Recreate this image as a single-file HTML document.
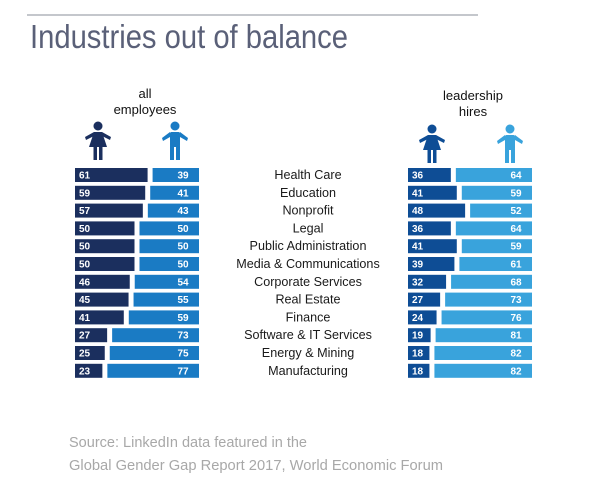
<!DOCTYPE html>
<html><head><meta charset="utf-8"><style>
html,body{margin:0;padding:0;background:#fff;}
svg{display:block;font-family:"Liberation Sans",sans-serif;}
</style></head><body>
<svg id="chart" width="600" height="495" viewBox="0 0 600 495">
<line x1="27" y1="15" x2="478" y2="15" stroke="#8a8f99" stroke-width="1"/>
<text x="30" y="48" font-size="33" fill="#5a6078" textLength="318" lengthAdjust="spacingAndGlyphs">Industries out of balance</text>
<text x="145" y="98" font-size="13" fill="#111" text-anchor="middle">all</text>
<text x="145" y="114" font-size="13" fill="#111" text-anchor="middle">employees</text>
<text x="473" y="100" font-size="13" fill="#111" text-anchor="middle">leadership</text>
<text x="473" y="116" font-size="13" fill="#111" text-anchor="middle">hires</text>
<g id="icons"></g>
<g id="bars"></g>
<text x="69" y="447" font-size="14.5" fill="#a8a8a8" textLength="238" lengthAdjust="spacingAndGlyphs">Source: LinkedIn data featured in the</text>
<text x="69" y="470" font-size="14.5" fill="#a8a8a8" textLength="374" lengthAdjust="spacingAndGlyphs">Global Gender Gap Report 2017, World Economic Forum</text>
</svg>
<script>
const industries=["Health Care","Education","Nonprofit","Legal","Public Administration","Media & Communications","Corporate Services","Real Estate","Finance","Software & IT Services","Energy & Mining","Manufacturing"];
const allFemale=[61,59,57,50,50,50,46,45,41,27,25,23];
const allMale=[39,41,43,50,50,50,54,55,59,73,75,77];
const hiresFemale=[36,41,48,36,41,39,32,27,24,19,18,18];
const hiresMale=[64,59,52,64,59,61,68,73,76,81,82,82];

const NS="http://www.w3.org/2000/svg";
const bars=document.getElementById('bars');
const icons=document.getElementById('icons');
const scale=1.19, gap=5, rowTop=168, rowStep=17.8, barH=14;
function yRow(i){return rowTop+i*rowStep;}
function el(tag,attrs,parent){const e=document.createElementNS(NS,tag);for(const k in attrs)e.setAttribute(k,attrs[k]);parent.appendChild(e);return e;}

function drawPanel(x0,fem,mal,fc,mc,key){
  const total=100*scale+gap;
  fem.forEach((v,i)=>{
    const y=yRow(i), w=v*scale;
    const r=el('rect',{x:x0,y:y,width:w,height:barH,fill:fc},bars);
    
    
    const t=el('text',{x:x0+4,y:y+10.5,'font-size':10,'font-weight':'bold',fill:'#fff'},bars);
    t.textContent=v;
    
    
  });
  mal.forEach((v,i)=>{
    const y=yRow(i), w=v*scale, xe=x0+total;
    const r=el('rect',{x:xe-w,y:y,width:w,height:barH,fill:mc},bars);
    
    
    const t=el('text',{x:xe-16,y:y+10.5,'font-size':10,'font-weight':'bold',fill:'#fff','text-anchor':'middle'},bars);
    t.textContent=v;
    
    
  });
}
drawPanel(75,allFemale,allMale,'#1b2f5e','#1a7bc4','all');
drawPanel(408,hiresFemale,hiresMale,'#0e4d95','#39a3dc','hires');

industries.forEach((n,i)=>{
  const t=el('text',{x:308,y:yRow(i)+11,'font-size':12.6,fill:'#1a1a1a','text-anchor':'middle'},bars);
  t.textContent=n;
  
  
});

function female(cx,top,c,name){
  const g=el('g',{fill:c},icons);
  
  
  el('circle',{cx:cx,cy:top+5,r:4.5},g);
  el('path',{d:`M${cx-4} ${top+11} L${cx+4} ${top+11} L${cx+9} ${top+26} L${cx-9} ${top+26} Z`},g);
  el('path',{d:`M${cx-4} ${top+11} L${cx-13} ${top+16} L${cx-12} ${top+19} L${cx-4} ${top+15} Z M${cx+4} ${top+11} L${cx+13} ${top+16} L${cx+12} ${top+19} L${cx+4} ${top+15} Z`},g);
  el('rect',{x:cx-4.5,y:top+26,width:3.5,height:13},g);
  el('rect',{x:cx+1,y:top+26,width:3.5,height:13},g);
}
function male(cx,top,c,name){
  const g=el('g',{fill:c},icons);
  
  
  el('circle',{cx:cx,cy:top+5,r:4.5},g);
  el('rect',{x:cx-5,y:top+11,width:10,height:15,rx:1.5},g);
  el('path',{d:`M${cx-5} ${top+11} L${cx-13} ${top+17} L${cx-12} ${top+20} L${cx-5} ${top+16} Z M${cx+5} ${top+11} L${cx+13} ${top+17} L${cx+12} ${top+20} L${cx+5} ${top+16} Z`},g);
  el('rect',{x:cx-5,y:top+25,width:4,height:14},g);
  el('rect',{x:cx+1,y:top+25,width:4,height:14},g);
}
female(98,121,'#1b2f5e','all-female-icon');
male(175,121,'#1a7bc4','all-male-icon');
female(432,124,'#0e4d95','hires-female-icon');
male(510,124,'#39a3dc','hires-male-icon');
</script>
</body></html>
